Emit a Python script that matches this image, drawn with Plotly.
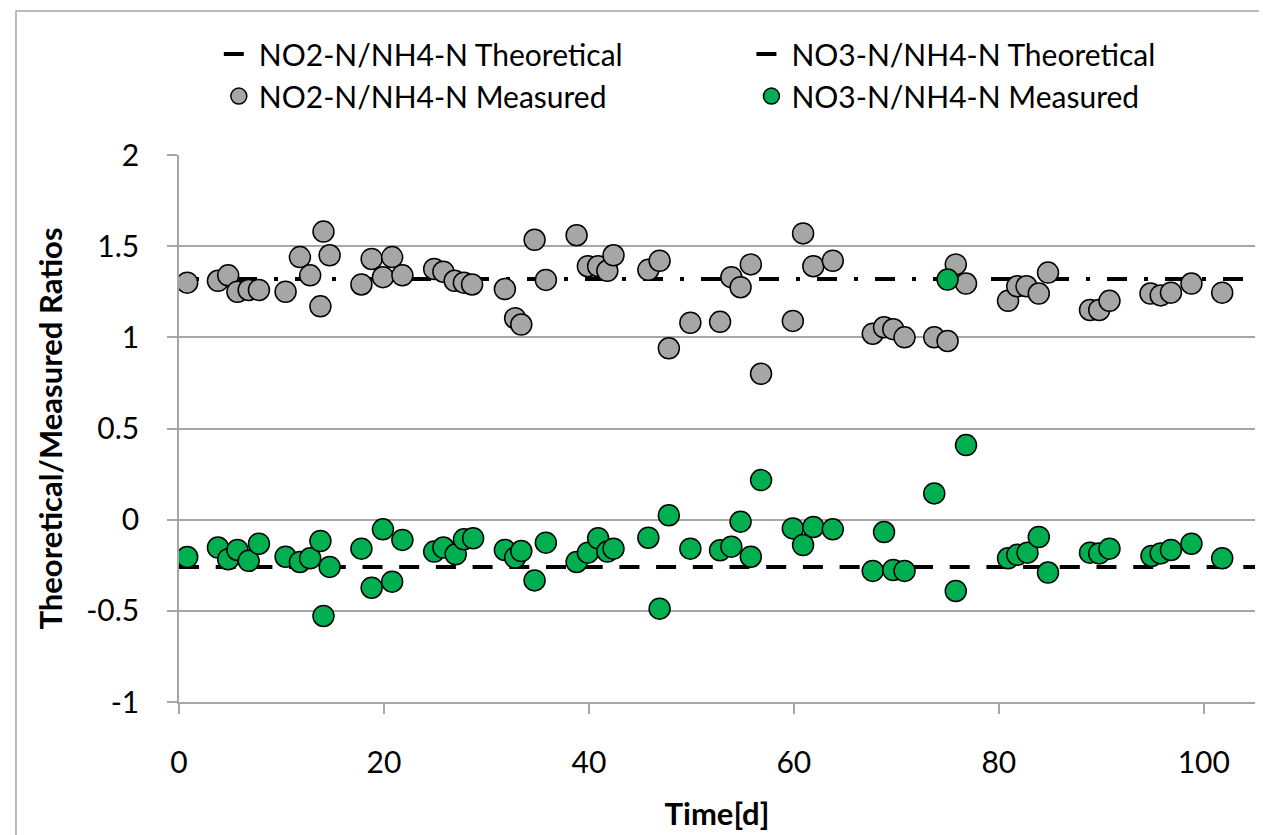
import plotly.graph_objects as go

# ---- data ----
days_no2 = [0.8, 3.8, 4.8, 5.7, 6.8, 7.8, 10.4, 11.8, 12.8, 14.1,
            13.8, 14.7, 17.8, 18.8, 19.9, 20.8, 21.8, 24.9, 25.8, 26.9,
            27.8, 28.6, 31.8, 32.8, 33.4, 34.7, 35.8, 38.8, 39.9, 40.9,
            41.8, 42.4, 45.8, 46.9, 47.8, 49.9, 52.8, 53.9, 54.8, 55.8,
            56.8, 59.9, 60.9, 61.9, 63.8, 67.7, 68.8, 69.7, 70.8, 73.7,
            75.0, 75.8, 76.8, 80.9, 81.8, 82.7, 83.9, 84.8, 88.9, 89.8,
            90.8, 94.8, 95.8, 96.8, 98.8, 101.8]
no2_measured = [1.30, 1.31, 1.34, 1.25, 1.26, 1.26, 1.25, 1.44, 1.34, 1.58,
                1.17, 1.45, 1.29, 1.43, 1.33, 1.44, 1.34, 1.375, 1.36, 1.31,
                1.30, 1.29, 1.265, 1.105, 1.07, 1.535, 1.315, 1.56, 1.39, 1.39,
                1.365, 1.45, 1.37, 1.42, 0.94, 1.08, 1.085, 1.33, 1.275, 1.40,
                0.80, 1.09, 1.57, 1.39, 1.42, 1.02, 1.055, 1.045, 1.00, 1.00,
                0.98, 1.40, 1.295, 1.20, 1.28, 1.28, 1.24, 1.355, 1.15, 1.15,
                1.20, 1.24, 1.23, 1.245, 1.295, 1.245]

days_no3 = [0.8, 3.8, 4.8, 5.7, 6.8, 7.8, 10.4, 11.8, 12.8, 13.8,
            14.1, 14.7, 17.8, 18.8, 19.9, 20.8, 21.8, 24.9, 25.8, 27.0,
            27.8, 28.7, 31.8, 32.8, 33.4, 34.7, 35.8, 38.8, 39.9, 40.9,
            41.8, 42.4, 45.8, 46.9, 47.8, 49.9, 52.8, 53.9, 54.8, 55.8,
            56.8, 59.9, 60.9, 61.9, 63.8, 67.7, 68.8, 69.7, 70.8, 73.7,
            75.0, 75.8, 76.8, 80.9, 81.8, 82.8, 83.9, 84.8, 88.9, 89.8,
            90.8, 94.9, 95.8, 96.8, 98.8, 101.8]
no3_measured = [-0.205, -0.153, -0.217, -0.166, -0.226, -0.132, -0.203, -0.232, -0.212, -0.117,
                -0.528, -0.259, -0.159, -0.373, -0.053, -0.34, -0.111, -0.175, -0.153, -0.19,
                -0.108, -0.102, -0.166, -0.208, -0.172, -0.333, -0.126, -0.232, -0.181, -0.102,
                -0.175, -0.159, -0.099, -0.488, 0.024, -0.159, -0.168, -0.148, -0.011, -0.203,
                0.217, -0.048, -0.139, -0.04, -0.053, -0.281, -0.068, -0.276, -0.281, 0.144,
                1.317, -0.391, 0.409, -0.212, -0.193, -0.181, -0.095, -0.29, -0.181, -0.185,
                -0.159, -0.199, -0.185, -0.166, -0.132, -0.212]

theory_days = [0, 105]
no2_theoretical = [1.32, 1.32]
no3_theoretical = [-0.26, -0.26]

x_ticks = [0, 20, 40, 60, 80, 100]
y_ticks = [-1, -0.5, 0, 0.5, 1, 1.5, 2]

# ---- figure ----
FONT = "Lato"
GRID = "#A6A6A6"

fig = go.Figure()
fig.add_trace(go.Scatter(
    x=theory_days, y=no2_theoretical, mode="lines",
    name="NO2-N/NH4-N Theoretical", legend="legend",
    line=dict(color="black", width=4, dash="20px,17px,4px,17px"),
))
fig.add_trace(go.Scatter(
    x=theory_days, y=no3_theoretical, mode="lines",
    name="NO3-N/NH4-N Theoretical", legend="legend2",
    line=dict(color="black", width=4, dash="20px,16.7px"),
))
fig.add_trace(go.Scatter(
    x=days_no2, y=no2_measured, mode="markers",
    name="NO2-N/NH4-N Measured", legend="legend",
    marker=dict(size=21, color="#A6A6A6", line=dict(color="black", width=1.5)),
))
fig.add_trace(go.Scatter(
    x=days_no3, y=no3_measured, mode="markers",
    name="NO3-N/NH4-N Measured", legend="legend2",
    marker=dict(size=21, color="#00B050", line=dict(color="black", width=1.5)),
))

legend_style = dict(
    orientation="v", yanchor="top", xanchor="left",
    font=dict(family=FONT, size=30, color="black"),
    bgcolor="rgba(0,0,0,0)", tracegroupgap=0,
)

fig.update_layout(
    width=1267, height=835,
    margin=dict(l=171, r=20, t=147, b=141),
    paper_bgcolor="white", plot_bgcolor="white",
    font=dict(family=FONT, size=30, color="black"),
    showlegend=True,
    legend=dict(x=0.037, y=1.232, **legend_style),
    legend2=dict(x=0.532, y=1.232, **legend_style),
    xaxis=dict(
        range=[0, 105], tickvals=x_ticks, ticktext=[str(v) for v in x_ticks],
        showgrid=False, zeroline=False,
        showline=True, linecolor=GRID, linewidth=1.5,
        ticks="outside", ticklen=10, tickcolor=GRID, tickwidth=1.5,
        tickfont=dict(family=FONT, size=30, color="black"),
        ticklabelstandoff=23,
        title=dict(text="<b>Time[d]</b>", font=dict(family=FONT, size=31, color="black"), standoff=26),
    ),
    yaxis=dict(
        range=[-1, 2], tickvals=y_ticks, ticktext=[f"{v:g}" for v in y_ticks],
        showgrid=True, gridcolor=GRID, gridwidth=1.5, zeroline=False,
        showline=True, linecolor=GRID, linewidth=1.5,
        ticks="outside", ticklen=10, tickcolor=GRID, tickwidth=1.5,
        tickfont=dict(family=FONT, size=30, color="black"),
        ticklabelstandoff=22,
        title=dict(text="<b>Theoretical/Measured Ratios</b>", font=dict(family=FONT, size=31, color="black"), standoff=14),
    ),
    shapes=[dict(type="rect", xref="paper", yref="paper",
                 x0=-0.1515, x1=1.03, y0=-0.28, y1=1.2633,
                 line=dict(color="#A6A6A6", width=1.5), layer="below")],
)

fig.write_html("out.html")
